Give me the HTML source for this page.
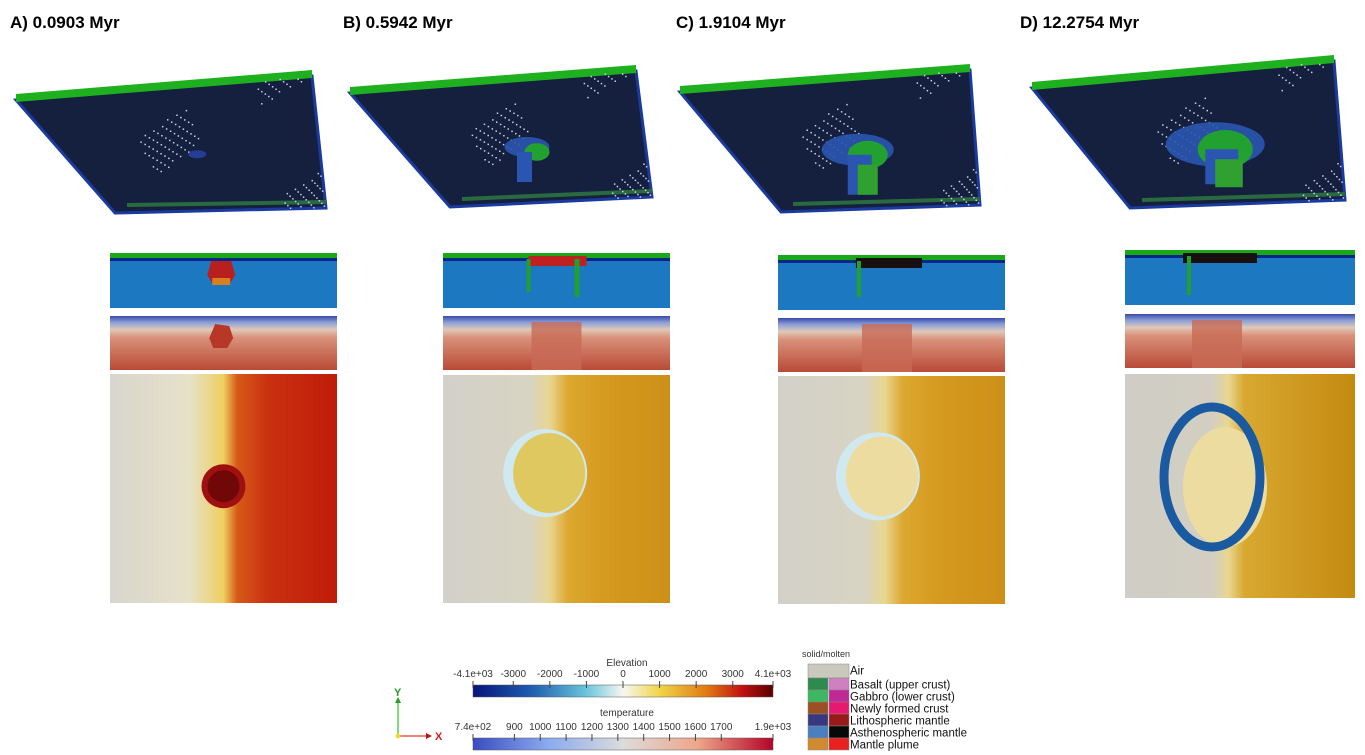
<!DOCTYPE html>
<html><head><meta charset="utf-8"><style>
body{margin:0;background:#fff;width:1365px;height:755px;overflow:hidden;font-family:"Liberation Sans",sans-serif}
svg{position:absolute;left:0;top:0}
</style></head><body>
<svg id="s" width="1365" height="755" xmlns="http://www.w3.org/2000/svg">
<defs>
<linearGradient id="tempV" x1="0" y1="0" x2="0" y2="1">
<stop offset="0" stop-color="#3a4aa8"/><stop offset="0.12" stop-color="#8aa0d8"/><stop offset="0.25" stop-color="#e0c8b8"/><stop offset="0.4" stop-color="#d9917a"/><stop offset="1" stop-color="#b94a36"/></linearGradient>
<linearGradient id="elevBar" x1="0" x2="1">
<stop offset="0" stop-color="#08147a"/><stop offset="0.2" stop-color="#1f5fb0"/><stop offset="0.38" stop-color="#6cc6dc"/><stop offset="0.5" stop-color="#f7f7f2"/><stop offset="0.62" stop-color="#f0d64a"/><stop offset="0.78" stop-color="#e07a10"/><stop offset="0.9" stop-color="#c01010"/><stop offset="1" stop-color="#5a0000"/></linearGradient>
<linearGradient id="tempBar" x1="0" x2="1">
<stop offset="0" stop-color="#3a4cc0"/><stop offset="0.25" stop-color="#8aaaf0"/><stop offset="0.5" stop-color="#dcdcdc"/><stop offset="0.75" stop-color="#eea58a"/><stop offset="1" stop-color="#b40426"/></linearGradient>
<linearGradient id="mapA" x1="0" x2="1">
<stop offset="0" stop-color="#d8d6cf"/><stop offset="0.35" stop-color="#e6e1c8"/><stop offset="0.5" stop-color="#efcf60"/><stop offset="0.56" stop-color="#d65a18"/><stop offset="0.7" stop-color="#c93010"/><stop offset="1" stop-color="#c01c08"/></linearGradient>
<linearGradient id="mapB" x1="0" x2="1">
<stop offset="0" stop-color="#d2d0c8"/><stop offset="0.38" stop-color="#d8d4c4"/><stop offset="0.47" stop-color="#e8d690"/><stop offset="0.55" stop-color="#dca830"/><stop offset="0.7" stop-color="#d69a20"/><stop offset="1" stop-color="#cc9018"/></linearGradient>
<linearGradient id="mapD" x1="0" x2="1">
<stop offset="0" stop-color="#cfcdc5"/><stop offset="0.38" stop-color="#d2cfc2"/><stop offset="0.45" stop-color="#e8d690"/><stop offset="0.52" stop-color="#d8a830"/><stop offset="1" stop-color="#c48a10"/></linearGradient>
</defs>
</svg>
<script>
const S=document.getElementById('s');const NS='http://www.w3.org/2000/svg';
function mk(t,a,p){const e=document.createElementNS(NS,t);for(const k in a)e.setAttribute(k,a[k]);(p||S).appendChild(e);return e;}
const panels=[
 {id:'a',title:'A) 0.0903 Myr',tx:10,slab:[[16,100],[312,76],[326,208],[115,213]],sx:110,sw:227,cy:253,ty:316,my:374,mh:229,map:'mapA'},
 {id:'b',title:'B) 0.5942 Myr',tx:343,slab:[[350,93],[636,71],[652,197],[450,207]],sx:443,sw:227,cy:253,ty:316,my:375,mh:228,map:'mapB'},
 {id:'c',title:'C) 1.9104 Myr',tx:676,slab:[[680,92],[970,70],[980,205],[781,212]],sx:778,sw:227,cy:255,ty:318,my:376,mh:228,map:'mapB'},
 {id:'d',title:'D) 12.2754 Myr',tx:1020,slab:[[1032,88],[1334,61],[1345,200],[1130,208]],sx:1125,sw:230,cy:250,ty:314,my:374,mh:224,map:'mapD'}];
panels.forEach((p,i)=>{
 const g=mk('g',{});
 
 
 const t=mk('text',{x:p.tx,y:28,'font-size':17,'font-weight':'bold',fill:'#000'},g);t.textContent=p.title;
 
 
 const s=p.slab;const pts=s.map(q=>q.join(',')).join(' ');
 const sl=mk('polygon',{points:pts,fill:'#14203e',stroke:'#1a3aa0','stroke-width':3},g);
 
 
 mk('polygon',{points:`${s[0][0]},${s[0][1]-6} ${s[1][0]},${s[1][1]-6} ${s[1][0]},${s[1][1]+2} ${s[0][0]},${s[0][1]+2}`,fill:'#1fb020'},g);
 mk('line',{x1:s[3][0]+12,y1:s[3][1]-8,x2:s[2][0],y2:s[2][1]-6,stroke:'#2a6a40','stroke-width':4},g);
 // speckles
 const cx=(s[0][0]+s[1][0]+s[2][0]+s[3][0])/4, cy=(s[0][1]+s[1][1]+s[2][1]+s[3][1])/4;
 for(let k=0;k<260;k++){const u=((k*37)%100)/100,v=((k*61)%97)/97;
  const x=s[0][0]*(1-u)*(1-v)+s[1][0]*u*(1-v)+s[2][0]*u*v+s[3][0]*(1-u)*v;
  const y=s[0][1]*(1-u)*(1-v)+s[1][1]*u*(1-v)+s[2][1]*u*v+s[3][1]*(1-u)*v;
  if((u>0.3&&u<0.55)||u>0.8)mk('rect',{x:x,y:y,width:1.5,height:1.5,fill:'#c8d0e8'},g);}
 const r=[10,25,40,55][i];
 mk('ellipse',{cx:cx+5,cy:cy+5,rx:r*0.9,ry:r*0.4,fill:i?'#2a55b0':'#2840a0',opacity:0.9},g);
 if(i){mk('ellipse',{cx:cx+15,cy:cy+10,rx:r*0.5,ry:r*0.35,fill:'#22a030'},g);
  mk('rect',{x:cx-5,y:cy+10,width:r*0.6,height:[0,30,40,35][i],fill:'#2a55b0'},g);
  if(i>1)mk('rect',{x:cx+5,y:cy+20,width:r*0.5,height:[0,0,30,28][i],fill:'#30a030'},g);}
 // composition strip
 const c=mk('g',{},g);
 
 
 mk('rect',{x:p.sx,y:p.cy,width:p.sw,height:55,fill:'#1c78c0'},c);
 mk('rect',{x:p.sx,y:p.cy,width:p.sw,height:5,fill:'#18a818'},c);
 mk('rect',{x:p.sx,y:p.cy+5,width:p.sw,height:3,fill:'#0a2488'},c);
 const mx=p.sx+p.sw*[0.49,0.5,0.48,0.4][i];
 if(i==0){mk('polygon',{points:`${mx-10},${p.cy+8} ${mx+10},${p.cy+8} ${mx+14},${p.cy+22} ${mx+8},${p.cy+32} ${mx-8},${p.cy+32} ${mx-14},${p.cy+22}`,fill:'#b82020'},c);
  mk('rect',{x:mx-9,y:p.cy+25,width:18,height:7,fill:'#d88020'},c);}
 else{mk('rect',{x:mx-25-i*3,y:p.cy+3,width:50+i*8,height:10,fill:i==1?'#c02020':'#181010'},c);
  mk('rect',{x:mx-30,y:p.cy+6,width:4,height:30+i*3,fill:'#20a030'},c);
  if(i==1)mk('rect',{x:mx+18,y:p.cy+6,width:5,height:38,fill:'#20a030'},c);}
 // temperature strip
 const tg=mk('g',{},g);
 
 
 mk('rect',{x:p.sx,y:p.ty,width:p.sw,height:54,fill:'url(#tempV)'},tg);
 if(i==0)mk('polygon',{points:`${mx-6},${p.ty+8} ${mx+8},${p.ty+10} ${mx+12},${p.ty+22} ${mx+6},${p.ty+32} ${mx-8},${p.ty+32} ${mx-12},${p.ty+22}`,fill:'#b83828'},tg);
 else mk('rect',{x:mx-25,y:p.ty+6,width:50,height:48,fill:'#c86a55',opacity:0.8},tg);
 // map
 const m=mk('g',{},g);
 
 
 mk('rect',{x:p.sx,y:p.my,width:p.sw,height:p.mh,fill:'url(#'+p.map+')'},m);
 const ccx=p.sx+p.sw*[0.5,0.45,0.44,0.4][i], ccy=p.my+p.mh*[0.49,0.43,0.44,0.46][i];
 if(i==0){mk('circle',{cx:ccx,cy:ccy,r:22,fill:'#a01010'},m);mk('circle',{cx:ccx,cy:ccy,r:16,fill:'#700808'},m);}
 else if(i<3){mk('ellipse',{cx:ccx,cy:ccy,rx:42,ry:44,fill:'#d0e8ef'},m);mk('ellipse',{cx:ccx+4,cy:ccy,rx:36,ry:40,fill:i==1?'#e0c860':'#ecdca0'},m);}
 else{mk('ellipse',{cx:ccx-5,cy:ccy,rx:48,ry:70,fill:'none',stroke:'#1a5aa0','stroke-width':9});
  mk('ellipse',{cx:ccx+8,cy:ccy+10,rx:42,ry:60,fill:'#ecdca0'},m);}
});
// legend colorbars
const elevTicks=['-4.1e+03','-3000','-2000','-1000','0','1000','2000','3000','4.1e+03'];
const elevVals=[-4100,-3000,-2000,-1000,0,1000,2000,3000,4100];
const tempTicks=['7.4e+02','900','1000','1100','1200','1300','1400','1500','1600','1700','1.9e+03'];
const tempVals=[740,900,1000,1100,1200,1300,1400,1500,1600,1700,1900];
function bar(name,title,ty,by,grad,labels,vals,lo,hi){
 const g=mk('g',{});
 
 
 const t=mk('text',{x:627,y:ty,'font-size':10,'text-anchor':'middle',fill:'#333'},g);t.textContent=title;
 mk('rect',{x:473,y:by,width:300,height:12,fill:'url('+grad+')',stroke:'#555','stroke-width':0.5},g);
 vals.forEach((v,k)=>{const x=473+(v-lo)/(hi-lo)*300;
  mk('line',{x1:x,y1:by-4,x2:x,y2:by+3,stroke:'#444'},g);
  const l=mk('text',{x:x,y:by-8,'font-size':10,'text-anchor':'middle',fill:'#333'},g);l.textContent=labels[k];});
}
bar('elevation-colorbar','Elevation',666,685,'#elevBar',elevTicks,elevVals,-4100,4100);
bar('temperature-colorbar','temperature',716,738,'#tempBar',tempTicks,tempVals,740,1900);
// axes icon
const ax=mk('g',{});


mk('line',{x1:398,y1:736,x2:398,y2:700,stroke:'#7fdc7f','stroke-width':2},ax);
mk('polygon',{points:'395,703 401,703 398,697',fill:'#2a9a2a'},ax);
mk('line',{x1:398,y1:736,x2:428,y2:736,stroke:'#f08080','stroke-width':2},ax);
mk('polygon',{points:'426,733 426,739 432,736',fill:'#c01010'},ax);
mk('circle',{cx:398,cy:736,r:2.5,fill:'#e8e030'},ax);
let tt=mk('text',{x:394,y:696,'font-size':11,'font-weight':'bold',fill:'#2a9a2a'},ax);tt.textContent='Y';
tt=mk('text',{x:435,y:740,'font-size':11,'font-weight':'bold',fill:'#d02020'},ax);tt.textContent='X';
// solid/molten legend
const lg=mk('g',{});


tt=mk('text',{x:802,y:657,'font-size':9,fill:'#333'},lg);tt.textContent='solid/molten';
const names=['Air','Basalt (upper crust)','Gabbro (lower crust)','Newly formed crust','Lithospheric mantle','Asthenospheric mantle','Mantle plume'];
const solid=['#cbc8be','#2e8a4e','#3cb860','#9a5020','#363880','#4a80c0','#d08a30'];
const molten=['#cbc8be','#d080c0','#c02898','#e81870','#9a1a1a','#080808','#e82020'];
names.forEach((n,k)=>{const y=[664,678,690,702,714,726,738][k],h=k?12:14;
 const e=mk('g',{},lg);
 
 
 if(k==0)mk('rect',{x:808,y:y,width:41,height:h,fill:solid[0],stroke:'#888','stroke-width':0.5},e);
 else{mk('rect',{x:808,y:y,width:20,height:h,fill:solid[k],stroke:'#888','stroke-width':0.5},e);
  mk('rect',{x:829,y:y,width:20,height:h,fill:molten[k],stroke:'#888','stroke-width':0.5},e);}
 const l=mk('text',{x:850,y:y+10.5,'font-size':11.5,fill:'#111'},e);l.textContent=n;});
</script>
</body></html>
